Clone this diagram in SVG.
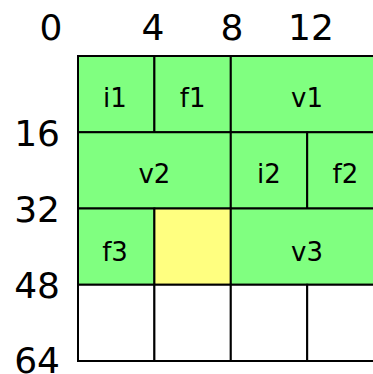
<svg xmlns="http://www.w3.org/2000/svg" width="373" height="374" viewBox="0 0 373 374">
<style>
.g{fill:#80ff80;stroke:#000;stroke-width:2}
.y{fill:#ffff80;stroke:#000;stroke-width:2}
.w{fill:#fff;stroke:#000;stroke-width:2}
.ax{font-family:"DejaVu Sans",Verdana,sans-serif;font-size:36px;fill:#000}
.lb{font-family:"DejaVu Sans",Verdana,sans-serif;font-size:26px;fill:#000;text-anchor:middle}
</style>
<rect width="373" height="374" fill="#fff"/>
<g id="axis">
<text class="ax" x="51" y="40" text-anchor="middle">0</text>
<text class="ax" x="153" y="40" text-anchor="middle">4</text>
<text class="ax" x="232" y="40" text-anchor="middle">8</text>
<text class="ax" x="311" y="40" text-anchor="middle">12</text>
<text class="ax" x="60" y="146" text-anchor="end">16</text>
<text class="ax" x="60" y="222" text-anchor="end">32</text>
<text class="ax" x="60" y="298" text-anchor="end">48</text>
<text class="ax" x="60" y="373" text-anchor="end">64</text>
</g>
<g id="i1"><rect class="g" x="78" y="56" width="76.4" height="76.25"/><text class="lb" x="115" y="107">i1</text></g>
<g id="f1"><rect class="g" x="154.4" y="56" width="76.4" height="76.25"/><text class="lb" x="192.6" y="107">f1</text></g>
<g id="v1"><rect class="g" x="230.8" y="56" width="152.8" height="76.25"/><text class="lb" x="307" y="107">v1</text></g>
<g id="v2"><rect class="g" x="78" y="132.25" width="152.8" height="76.25"/><text class="lb" x="154.4" y="183">v2</text></g>
<g id="i2"><rect class="g" x="230.8" y="132.25" width="76.4" height="76.25"/><text class="lb" x="269" y="183">i2</text></g>
<g id="f2"><rect class="g" x="307.2" y="132.25" width="76.4" height="76.25"/><text class="lb" x="345.4" y="183">f2</text></g>
<g id="f3"><rect class="g" x="78" y="208.5" width="76.4" height="76.25"/><text class="lb" x="115" y="261">f3</text></g>
<g id="free"><rect class="y" x="154.4" y="208.5" width="76.4" height="76.25"/></g>
<g id="v3"><rect class="g" x="230.8" y="208.5" width="152.8" height="76.25"/><text class="lb" x="307" y="261">v3</text></g>
<g id="empty">
<rect class="w" x="78" y="284.75" width="76.4" height="76.25"/>
<rect class="w" x="154.4" y="284.75" width="76.4" height="76.25"/>
<rect class="w" x="230.8" y="284.75" width="76.4" height="76.25"/>
<rect class="w" x="307.2" y="284.75" width="76.4" height="76.25"/>
</g>
</svg>
